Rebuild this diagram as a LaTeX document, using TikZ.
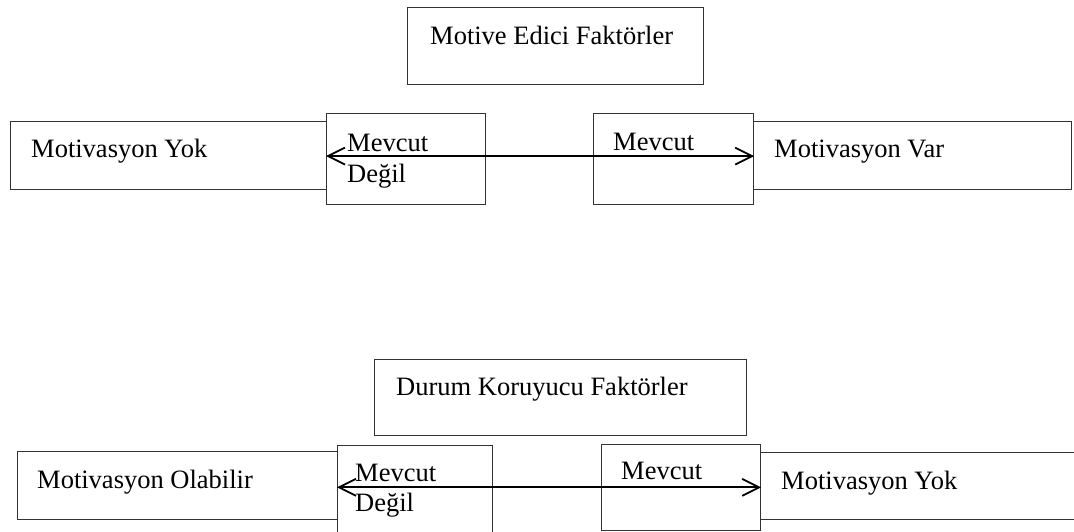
\documentclass[tikz,border=0pt]{standalone}
\usepackage{fontspec}
\setmainfont{Liberation Serif}
\usetikzlibrary{arrows.meta}
\begin{document}
\begin{tikzpicture}[x=1pt,y=-1pt,
  frame/.style={draw=black!80, line width=1.2pt, fill=white, inner sep=0pt, anchor=north west},
  label/.style={anchor=base west, inner sep=0pt, font=\fontsize{26.5}{32}\selectfont},
  link/.style={line width=1.8pt,
    {Straight Barb[length=17pt,width=17pt]}-{Straight Barb[length=17pt,width=17pt]}}
]
\useasboundingbox (0,0) rectangle (1074,531);
\fill[white] (0,0) rectangle (1074,531);
\clip (0,0) rectangle (1074,531);

% ---- upper group: motivating factors ----
\node[frame, minimum width=296pt, minimum height=77pt] (mot) at (407,7) {};
\node[label] (motT) at (430,44) {Motive Edici Faktörler};

\node[frame, minimum width=316pt, minimum height=68pt] (noA) at (10,121) {};
\node[label] (noAT) at (31,157) {Motivasyon Yok};
\node[frame, minimum width=318pt, minimum height=68pt] (yesA) at (753,121) {};
\node[label] (yesAT) at (774,157) {Motivasyon Var};

\node[frame, minimum width=159pt, minimum height=91pt] (absA) at (326,113) {};
\node[label] (absA1) at (347,151) {Mevcut};
\node[label] (absA2) at (347,182) {Değil};
\node[frame, minimum width=160pt, minimum height=91pt] (preA) at (593,113) {};
\node[label] (preA1) at (613,150.5) {Mevcut};

\draw[link] ([yshift=3pt]absA.west) -- ([yshift=3pt]preA.east);

% ---- lower group: hygiene factors ----
\node[frame, minimum width=372pt, minimum height=76pt] (hyg) at (374,359) {};
\node[label] (hygT) at (396,395) {Durum Koruyucu Faktörler};

\node[frame, minimum width=320pt, minimum height=68pt] (mayB) at (17,451) {};
\node[label] (mayBT) at (37,488) {Motivasyon Olabilir};
\node[frame, minimum width=340pt, minimum height=67pt] (noB) at (760,452) {};
\node[label] (noBT) at (781,489) {Motivasyon Yok};

\node[frame, minimum width=155pt, minimum height=100pt] (absB) at (337,445) {};
\node[label] (absB1) at (355,481) {Mevcut};
\node[label] (absB2) at (355,511) {Değil};
\node[frame, minimum width=159pt, minimum height=86.5pt] (preB) at (601,443.5) {};
\node[label] (preB1) at (621,479) {Mevcut};

\draw[link] (absB.west |- preB.east) -- (preB.east);
\end{tikzpicture}
\end{document}
